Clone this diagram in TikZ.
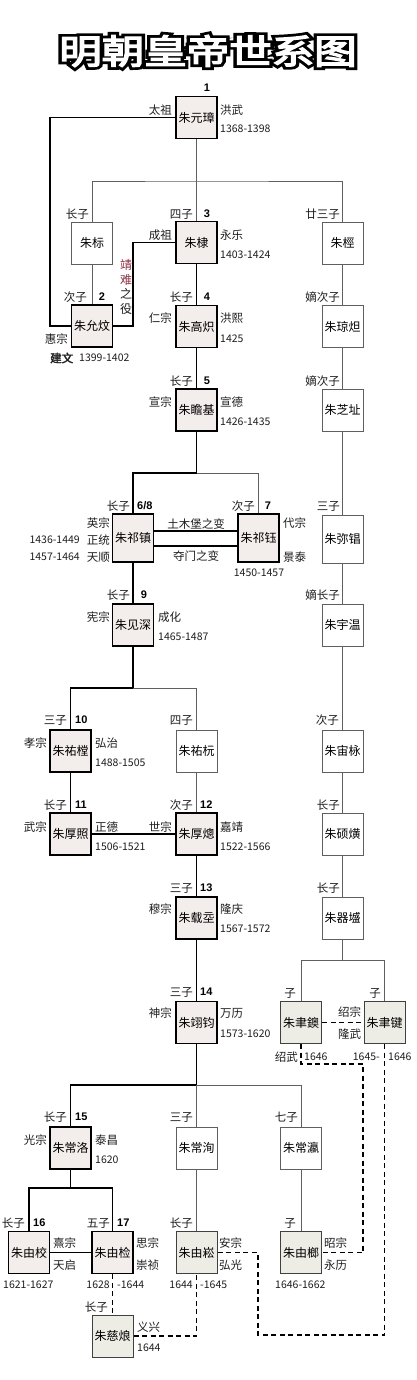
\documentclass[tikz,border=0pt]{standalone}
\usepackage{fontspec}
\setmainfont{Noto Sans CJK SC}[AutoFakeBold=2]
\newfontfamily\titlef{Noto Sans CJK SC}[FakeBold=4]
\newfontfamily\titleo{Noto Sans CJK SC}[FakeBold=20]
\newfontfamily\numf{Liberation Sans}
\usetikzlibrary{calc}
\definecolor{empfill}{RGB}{243,237,235}
\definecolor{smfill}{RGB}{237,236,229}
\definecolor{thinc}{RGB}{95,95,95}
\definecolor{jnred}{RGB}{140,45,65}
\definecolor{labc}{RGB}{30,30,30}
\tikzset{
 box/.style={minimum width=41pt, minimum height=42pt, inner sep=0pt, font=\fontsize{12}{12}\selectfont},
 emp/.style={box, draw=black, line width=1.8pt, fill=empfill},
 oth/.style={box, draw=thinc, line width=0.9pt, fill=white},
 sm/.style={box, draw=black!75, line width=1pt, fill=smfill},
 lab/.style={inner sep=0pt, text=labc, font=\fontsize{11.5}{12}\selectfont},
 labb/.style={lab, font=\bfseries\fontsize{11.5}{12}\selectfont},
 yr/.style={inner sep=0pt, text=labc, font=\fontsize{10.5}{11}\selectfont},
 num/.style={inner sep=0pt, text=black, font=\numf\bfseries\fontsize{11}{11}\selectfont},
 thk/.style={draw=black, line width=1.8pt},
 thn/.style={draw=thinc, line width=0.9pt},
 dsh/.style={draw=black, line width=1.6pt, dash pattern=on 5pt off 3.5pt},
 ttl/.style={inner sep=0pt, font=\titlef\fontsize{34}{34}\selectfont, xscale=1.25, transform shape},
 ttlo/.style={inner sep=0pt, font=\titleo\fontsize{34}{34}\selectfont, xscale=1.25, transform shape},
}
\newcommand\tl[5]{\node[#1,anchor=#2] (#3) at (#4) {#5};}
\begin{document}
\begin{tikzpicture}[x=1pt,y=-1pt]
\fill[white] (0,0) rectangle (416,1380);
\useasboundingbox (0,0) rectangle (416,1380);

% title: thick black outline copy, white text on top
\node[ttlo,text=black] (titleo) at (208,51) {明朝皇帝世系图};
\node[ttl,text=white] (title) at (208,51) {明朝皇帝世系图};

% boxes
\node[emp] (yz) at (196.5,117.5) {朱元璋};
\node[oth] (zb) at (92,243) {朱标};
\node[emp] (zd) at (196.5,242.5) {朱棣};
\node[oth] (zj) at (342.5,243) {朱桱};
\node[emp] (yw) at (92,326) {朱允炆};
\node[emp] (gc) at (196.5,326.5) {朱高炽};
\node[oth] (qd) at (342.5,326.5) {朱琼炟};
\node[emp] (zjj) at (196.5,410) {朱瞻基};
\node[oth] (zz) at (342.5,410) {朱芝址};
\node[emp,minimum height=48pt] (qz) at (133,538) {朱祁镇};
\node[emp,minimum height=48pt] (qy) at (258.5,538) {朱祁钰};
\node[oth,minimum height=48pt] (mc) at (342.5,539) {朱弥锠};
\node[emp] (js) at (133,625) {朱见深};
\node[oth] (ywn) at (342.5,625) {朱宇温};
\node[emp] (yt) at (70.5,751) {朱祐樘};
\node[oth] (yy) at (196.5,751) {朱祐杬};
\node[oth] (zy) at (342.5,751) {朱宙栐};
\node[emp] (hz) at (70.5,834) {朱厚照};
\node[emp] (hc) at (196.5,834) {朱厚熜};
\node[oth] (sh) at (342.5,834) {朱硕熿};
\node[emp] (zk) at (196.5,918) {朱载坖};
\node[oth] (qs) at (342.5,918) {朱器墭};
\node[emp] (yjj) at (196.5,1022.5) {朱翊钧};
\node[sm] (yya) at (301,1022.5) {朱聿鐭};
\node[sm] (yjn) at (384.5,1022.5) {朱聿键};
\node[emp] (cl) at (70.5,1148) {朱常洛};
\node[oth] (cx) at (196.5,1148) {朱常洵};
\node[oth] (cy) at (301,1148) {朱常瀛};
\node[emp] (yx) at (29,1252.5) {朱由校};
\node[emp] (yjc) at (112.5,1252.5) {朱由检};
\node[sm] (ys) at (196.5,1252.5) {朱由崧};
\node[sm] (yl) at (301,1252.5) {朱由榔};
\node[sm] (cln) at (112.5,1336) {朱慈烺};

% branch points
\coordinate (b0) at (196.5,181);
\coordinate (b1) at (196.5,473);
\coordinate (b2) at (133,688);
\coordinate (b3) at (196.5,1085);
\coordinate (b4) at (70.5,1188);
\coordinate (b5) at (342.5,960);
\coordinate (d1) at (363,1064);
\coordinate (d2) at (384.5,1335);
\coordinate (d3) at (258,1335);
\coordinate (k1) at (50,117.5);
\coordinate (k2) at (133,326);

% connectors
\draw[thk] (yz.west) -- (k1) |- (yw.west);
\draw[thk] (yw.east) -- (k2) |- (zd.west);
\draw[thn] (yz.south) -- (b0) -- (zd.north);
\draw[thn] (zb.north) |- (b0) -| (zj.north);
\draw[thn] (zb.south) -- (yw.north);
\draw[thk] (zd.south) -- (gc.north);
\draw[thk] (gc.south) -- (zjj.north);
\draw[thk] (zjj.south) -- (b1) -| (qz.north);
\draw[thn] (b1) -| (qy.north);
\draw[thk] ([yshift=7pt]qz.east) -- ([yshift=7pt]qy.west);
\draw[thk] ([yshift=-8pt]qz.east) -- ([yshift=-8pt]qy.west);
\draw[thk] (qz.south) -- (js.north);
\draw[thk] (js.south) -- (b2) -| (yt.north);
\draw[thn] (b2) -| (yy.north);
\draw[thk] (yt.south) -- (hz.north);
\draw[thk] (hz.east) -- (hc.west);
\draw[thn] (yy.south) -- (hc.north);
\draw[thk] (hc.south) -- (zk.north);
\draw[thk] (zk.south) -- (yjj.north);
\draw[thk] (yjj.south) -- (b3) -| (cl.north);
\draw[thn] (b3) -| (cy.north);
\draw[thn] (b3) -- (cx.north);
\draw[thk] (cl.south) -- (b4);
\draw[thk] (yx.north) |- (b4) -| (yjc.north);
\draw[thk] (yx.east) -- (yjc.west);
\draw[thn] (cx.south) -- (ys.north);
\draw[thn] (cy.south) -- (yl.north);
\draw[thn] (zj.south) -- (qd.north);
\draw[thn] (qd.south) -- (zz.north);
\draw[thn] (zz.south) -- (mc.north);
\draw[thn] (mc.south) -- (ywn.north);
\draw[thn] (ywn.south) -- (zy.north);
\draw[thn] (zy.south) -- (sh.north);
\draw[thn] (sh.south) -- (qs.north);
\draw[thn] (qs.south) -- (b5);
\draw[thn] (yya.north) |- (b5) -| (yjn.north);
\draw[dsh] (yya.east) -- (yjn.west);
\draw[dsh] (yya.south) |- (d1) |- (yl.east);
\draw[dsh] (yjn.south) -- (d2) -- (d3) |- (ys.east);
\draw[dsh] (yjc.south) -- (cln.north);
\draw[dsh] (cln.east) -| (ys.south);

% row 1
\tl{num}{center}{n1}{207,88}{1}
\tl{lab}{east}{a1}{172,110}{太祖}
\tl{lab}{west}{a2}{220,110}{洪武}
\tl{yr}{west}{a3}{220,129}{1368-1398}
% row 2
\tl{lab}{east}{a4}{89,214}{长子}
\tl{lab}{east}{a5}{193,214}{四子}
\tl{num}{center}{n3}{207,214}{3}
\tl{lab}{east}{a6}{340,214}{廿三子}
\tl{lab}{east}{a7}{172,235}{成祖}
\tl{lab}{west}{a8}{220,235}{永乐}
\tl{yr}{west}{a9}{220,255}{1403-1424}
% row 3
\tl{lab}{east}{c1}{87,297}{次子}
\tl{num}{center}{n2}{102,297}{2}
\tl{lab}{east}{c2}{68,339}{惠宗}
\tl{labb}{west}{c3}{50,358}{建文}
\tl{yr}{west}{c4}{79,358}{1399-1402}
\tl{lab}{east}{c5}{193,297}{长子}
\tl{num}{center}{n4}{207,297}{4}
\tl{lab}{east}{c6}{172,318}{仁宗}
\tl{lab}{west}{c7}{220,318}{洪熙}
\tl{yr}{west}{c8}{220,339}{1425}
\tl{lab}{east}{c9}{340,297}{嫡次子}
\node[lab, align=center, font=\fontsize{12}{14.5}\selectfont] (jn) at (126,287)
  {\textcolor{jnred}{靖}\\\textcolor{jnred}{难}\\之\\役};
% row 4
\tl{lab}{east}{e1}{193,381}{长子}
\tl{num}{center}{n5}{207,381}{5}
\tl{lab}{east}{e2}{172,402}{宣宗}
\tl{lab}{west}{e3}{220,402}{宣德}
\tl{yr}{west}{e4}{220,422}{1426-1435}
\tl{lab}{east}{e5}{340,381}{嫡次子}
% row 5
\tl{lab}{east}{f1}{130,506}{长子}
\tl{num}{west}{n6}{137,506}{6/8}
\tl{lab}{east}{f2}{110,523}{英宗}
\tl{lab}{east}{f3}{110,540}{正统}
\tl{lab}{east}{f4}{110,557}{天顺}
\tl{yr}{east}{f5}{80,540}{1436-1449}
\tl{yr}{east}{f6}{80,557}{1457-1464}
\tl{lab}{east}{f7}{255,506}{次子}
\tl{num}{center}{n7}{268,506}{7}
\tl{lab}{west}{f8}{283,523}{代宗}
\tl{lab}{west}{f9}{283,557}{景泰}
\tl{yr}{center}{f10}{259,573}{1450-1457}
\tl{lab}{center}{f11}{196,524}{土木堡之变}
\tl{lab}{center}{f12}{196,556}{夺门之变}
\tl{lab}{east}{f13}{340,506}{三子}
% row 6
\tl{lab}{east}{g1}{130,595}{长子}
\tl{num}{center}{n9}{144,595}{9}
\tl{lab}{east}{g2}{110,617}{宪宗}
\tl{lab}{west}{g3}{158,617}{成化}
\tl{yr}{west}{g4}{158,637}{1465-1487}
\tl{lab}{east}{g5}{340,595}{嫡长子}
% row 7
\tl{lab}{east}{h1}{67,720}{三子}
\tl{num}{west}{n10}{75,720}{10}
\tl{lab}{east}{h2}{193,720}{四子}
\tl{lab}{east}{h3}{339,720}{次子}
\tl{lab}{east}{h4}{47,743}{孝宗}
\tl{lab}{west}{h5}{95,743}{弘治}
\tl{yr}{west}{h6}{95,763}{1488-1505}
% row 8
\tl{lab}{east}{i1}{67,805}{长子}
\tl{num}{west}{n11}{75,805}{11}
\tl{lab}{east}{i2}{193,805}{次子}
\tl{num}{west}{n12}{200,805}{12}
\tl{lab}{east}{i3}{340,805}{长子}
\tl{lab}{east}{i4}{47,827}{武宗}
\tl{lab}{west}{i5}{95,827}{正德}
\tl{yr}{west}{i6}{95,847}{1506-1521}
\tl{lab}{east}{i7}{172,827}{世宗}
\tl{lab}{west}{i8}{220,827}{嘉靖}
\tl{yr}{west}{i9}{220,847}{1522-1566}
% row 9
\tl{lab}{east}{j1}{193,888}{三子}
\tl{num}{west}{n13}{200,888}{13}
\tl{lab}{east}{j2}{340,888}{长子}
\tl{lab}{east}{j3}{172,909}{穆宗}
\tl{lab}{west}{j4}{220,909}{隆庆}
\tl{yr}{west}{j5}{220,929}{1567-1572}
% row 10
\tl{lab}{east}{k1l}{193,992}{三子}
\tl{num}{west}{n14}{200,992}{14}
\tl{lab}{east}{k2l}{172,1013}{神宗}
\tl{lab}{west}{k3l}{220,1013}{万历}
\tl{yr}{west}{k4l}{220,1034}{1573-1620}
\tl{lab}{center}{k5l}{290,993}{子}
\tl{lab}{center}{k6l}{375,993}{子}
\tl{lab}{center}{k7l}{349.5,1012}{绍宗}
\tl{lab}{center}{k8l}{349.5,1034}{隆武}
\tl{lab}{east}{k9l}{298,1057}{绍武}
\tl{yr}{west}{k10l}{304,1057}{1646}
\tl{yr}{east}{k11l}{380,1057}{1645-}
\tl{yr}{west}{k12l}{388,1057}{1646}
% row 11
\tl{lab}{east}{m1}{67,1117}{长子}
\tl{num}{west}{n15}{75,1117}{15}
\tl{lab}{east}{m2}{193,1117}{三子}
\tl{lab}{east}{m3}{298,1117}{七子}
\tl{lab}{east}{m4}{47,1140}{光宗}
\tl{lab}{west}{m5}{95,1140}{泰昌}
\tl{yr}{west}{m6}{95,1160}{1620}
% row 12
\tl{lab}{east}{p1}{25,1223}{长子}
\tl{num}{west}{n16}{33,1223}{16}
\tl{lab}{east}{p2}{110,1223}{五子}
\tl{num}{west}{n17}{117,1223}{17}
\tl{lab}{east}{p3}{193,1223}{长子}
\tl{lab}{center}{p4}{290,1223}{子}
\tl{lab}{west}{p5}{53,1243}{熹宗}
\tl{lab}{west}{p6}{53,1265}{天启}
\tl{yr}{west}{p7}{3,1285}{1621-1627}
\tl{lab}{west}{p8}{136,1243}{思宗}
\tl{lab}{west}{p9}{136,1265}{崇祯}
\tl{yr}{east}{p10}{110,1285}{1628}
\tl{yr}{west}{p11}{117,1285}{-1644}
\tl{lab}{west}{p12}{219,1243}{安宗}
\tl{lab}{west}{p13}{219,1265}{弘光}
\tl{yr}{east}{p14}{193,1285}{1644}
\tl{yr}{west}{p15}{200,1285}{-1645}
\tl{lab}{west}{p16}{324,1243}{昭宗}
\tl{lab}{west}{p17}{324,1265}{永历}
\tl{yr}{west}{p18}{275,1285}{1646-1662}
% row 13
\tl{lab}{east}{q1}{108,1307}{长子}
\tl{lab}{west}{q2}{137,1327}{义兴}
\tl{yr}{west}{q3}{137,1348}{1644}
\end{tikzpicture}
\end{document}
